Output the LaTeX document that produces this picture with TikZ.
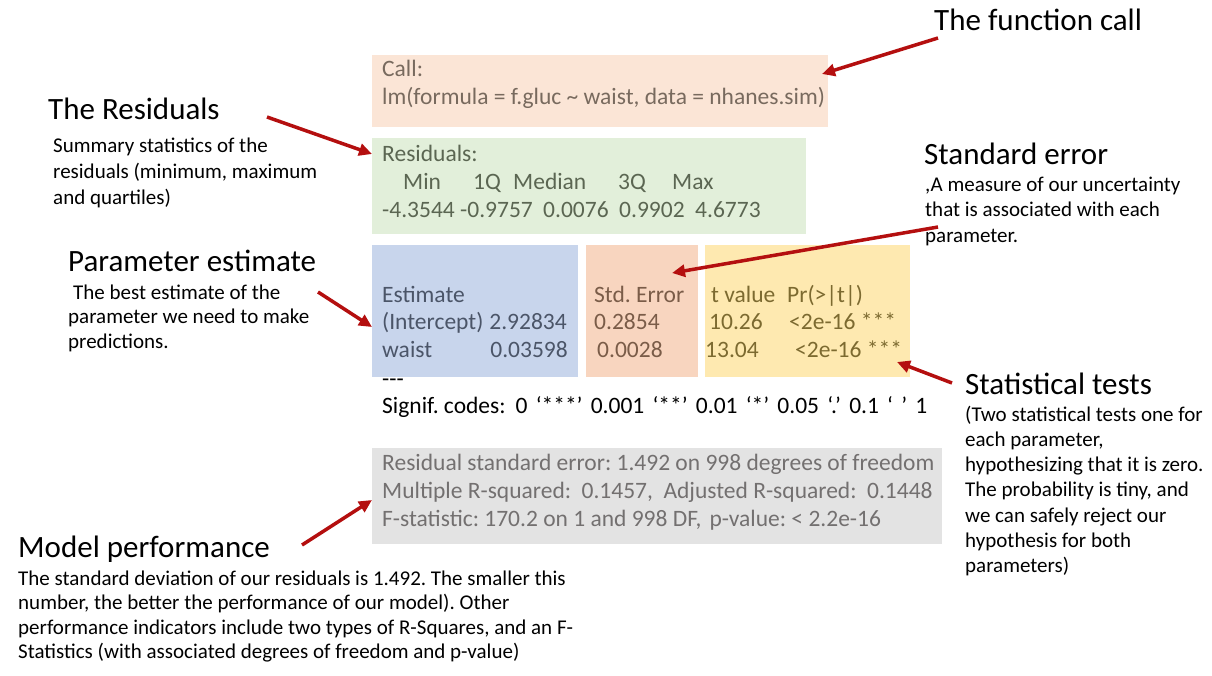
\documentclass[tikz,border=0pt]{standalone}
\usepackage{fontspec}
\setmainfont{Carlito}
\usetikzlibrary{arrows.meta}
\definecolor{callfill}{HTML}{FBE5D6}
\definecolor{calltext}{HTML}{786A5E}
\definecolor{resfill}{HTML}{E2EFDA}
\definecolor{restext}{HTML}{5B6652}
\definecolor{estfill}{HTML}{C8D5EC}
\definecolor{esttext}{HTML}{4B5568}
\definecolor{sefill}{HTML}{F8D5BF}
\definecolor{setext}{HTML}{7A5C48}
\definecolor{tfill}{HTML}{FEE9B0}
\definecolor{ttext}{HTML}{7C6A30}
\definecolor{perffill}{HTML}{E3E3E3}
\definecolor{perftext}{HTML}{737070}
\definecolor{arrred}{HTML}{B40F0F}
\begin{document}
\frenchspacing
\begin{tikzpicture}[x=1pt,y=-1pt,
  box/.style={inner sep=0pt, draw=none, anchor=north west},
  mono/.style={anchor=base west, inner sep=0pt, font=\fontsize{23.5}{28}\selectfont},
  monor/.style={anchor=base east, inner sep=0pt, font=\fontsize{23.5}{28}\selectfont},
  head/.style={anchor=base west, inner sep=0pt, font=\fontsize{31}{37}\selectfont},
  body/.style={anchor=base west, inner sep=0pt},
  arr/.style={draw=arrred, line width=3.5pt, -{Triangle[length=13pt,width=12pt]}}]
\useasboundingbox[fill=white] (0,0) rectangle (1212,675);
% boxes
\node[box, fill=callfill, minimum width=456pt, minimum height=72pt] (callbox) at (372,55) {};
\node[box, fill=resfill, minimum width=434pt, minimum height=96pt] (resbox) at (372,138) {};
\node[box, fill=estfill, minimum width=206pt, minimum height=132pt] (estbox) at (372,245) {};
\node[box, fill=sefill, minimum width=112pt, minimum height=132pt] (sebox) at (586,245) {};
\node[box, fill=tfill, minimum width=205pt, minimum height=132pt] (tbox) at (705,245) {};
\node[box, fill=perffill, minimum width=570pt, minimum height=96pt] (perfbox) at (372,448) {};
% call
\node[mono, text=calltext] (call1) at (382,76) {Call:};
\node[mono, text=calltext] (call2) at (382,104) {lm(formula = f.gluc \textasciitilde{} waist, data = nhanes.sim)};
% residuals
\node[mono, text=restext] (res1) at (382,161) {Residuals:};
\node[mono, text=restext] (rmin) at (403,189) {Min};
\node[mono, text=restext] (rq1) at (473,189) {1Q};
\node[mono, text=restext] (rmed) at (513,189) {Median};
\node[mono, text=restext] (rq3) at (618,189) {3Q};
\node[mono, text=restext] (rmax) at (672,189) {Max};
\node[mono, text=restext] (vmin) at (382,217) {-4.3544};
\node[mono, text=restext] (vq1) at (460,217) {-0.9757};
\node[mono, text=restext] (vmed) at (543,217) {0.0076};
\node[mono, text=restext] (vq3) at (619,217) {0.9902};
\node[mono, text=restext] (vmax) at (695,217) {4.6773};
% estimates
\node[mono, text=esttext] (est1) at (382,302) {Estimate};
\node[mono, text=esttext] (est2) at (382,329) {(Intercept)};
\node[monor, text=esttext] (est2v) at (567,329) {2.92834};
\node[mono, text=esttext] (est3) at (382,357) {waist};
\node[monor, text=esttext] (est3v) at (568,357) {0.03598};
\node[mono, text=setext] (se1) at (594,302) {Std. Error};
\node[mono, text=setext] (se2) at (594,329) {0.2854};
\node[mono, text=setext] (se3) at (597,357) {0.0028};
\node[mono, text=ttext] (t1) at (711,302) {t value};
\node[mono, text=ttext] (p1) at (787,302) {Pr(>|t|)};
\node[mono, text=ttext] (t2) at (709,329) {10.26};
\node[mono, text=ttext] (p2) at (789,329) {<2e-16 ***};
\node[mono, text=ttext] (t3) at (705,357) {13.04};
\node[mono, text=ttext] (p3) at (795,357) {<2e-16 ***};
\node[mono] (dashes) at (382,386) {-{}-{}-};
\node[mono] (signif) at (382,413) {Signif. codes:\hspace{10pt}{\spaceskip=8.2pt\relax 0 ‘***’ 0.001 ‘**’ 0.01 ‘*’ 0.05 ‘.’ 0.1 ‘ ’ 1}};
% performance
\node[mono, text=perftext] (perf1) at (382,470) {Residual standard error: 1.492 on 998 degrees of freedom};
\node[mono, text=perftext] (perf2) at (382,498) {Multiple R-squared:\hspace{10.5pt}0.1457,\hspace{10.5pt}Adjusted R-squared:\hspace{10.5pt}0.1448};
\node[mono, text=perftext] (perf3) at (382,526) {F-statistic: 170.2 on 1 and 998 DF,\hspace{8pt}p-value: < 2.2e-16};
% annotations
\node[head] (fchead) at (934,30) {The function call};
\node[head] (reshead) at (48,119) {The Residuals};
\node[body, font=\fontsize{21}{26}\selectfont] (resbody) at (53,152) {\vtop{\hbox{Summary statistics of the}\hbox{residuals (minimum, maximum}\hbox{and quartiles)}}};
\node[head] (sehead) at (924,164) {Standard error};
\node[body, font=\fontsize{21}{25.5}\selectfont] (sebody) at (925,191) {\vtop{\hbox{,A measure of our uncertainty}\hbox{that is associated with each}\hbox{parameter.}}};
\node[head] (pehead) at (68,271) {Parameter estimate};
\node[body, font=\fontsize{21}{24.5}\selectfont] (pebody) at (68,299) {\vtop{\hbox{\hspace*{5pt}The best estimate of the}\hbox{parameter we need to make}\hbox{predictions.}}};
\node[head] (sthead) at (965,394) {Statistical tests};
\node[body, font=\fontsize{21}{25.3}\selectfont] (stbody) at (965,421) {\vtop{\hbox{(Two statistical tests one for}\hbox{each parameter,}\hbox{hypothesizing that it is zero.}\hbox{The probability is tiny, and}\hbox{we can safely reject our}\hbox{hypothesis for both}\hbox{parameters)}}};
\node[head] (mphead) at (18,557) {Model performance};
\node[body, font=\fontsize{21}{24.5}\selectfont] (mpbody) at (18,585) {\vtop{\hbox{The standard deviation of our residuals is 1.492. The smaller this}\hbox{number, the better the performance of our model). Other}\hbox{performance indicators include two types of R-Squares, and an F-}\hbox{Statistics (with associated degrees of freedom and p-value)}}};
% arrows
\coordinate (fcT) at (938,38);  \coordinate (fcH) at (822,74);
\coordinate (resT) at (267,117); \coordinate (resH) at (372,154);
\coordinate (seT) at (938,227); \coordinate (seH) at (672,273);
\coordinate (peT) at (318,292); \coordinate (peH) at (372,327);
\coordinate (stT) at (952,383); \coordinate (stH) at (897,362);
\coordinate (mpT) at (302,545); \coordinate (mpH) at (372,500);
\draw[arr] (fcT) -- (fcH);
\draw[arr] (resT) -- (resH);
\draw[arr] (seT) -- (seH);
\draw[arr] (peT) -- (peH);
\draw[arr] (stT) -- (stH);
\draw[arr] (mpT) -- (mpH);
\end{tikzpicture}
\end{document}
